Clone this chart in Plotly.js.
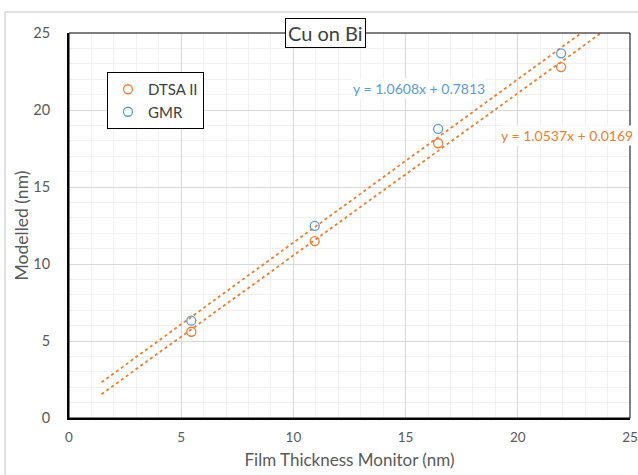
<!DOCTYPE html>
<html>
<head>
<meta charset="utf-8">
<script src="https://cdn.plot.ly/plotly-3.0.1.min.js"></script>
<style>html,body{margin:0;padding:0;background:#fff;}#chart{width:638px;height:475px;}</style>
</head>
<body>
<div id="chart"></div>
<script>
// Data
const seriesNames = ["DTSA II", "GMR"];
const filmThickness = [5.45, 10.95, 16.45, 21.93];
const dtsaValues = [5.60, 11.49, 17.84, 22.79];
const gmrValues = [6.32, 12.47, 18.77, 23.68];
const dtsaFit = {slope: 1.0537, intercept: 0.0169};
const gmrFit = {slope: 1.0608, intercept: 0.7813};
const trendRange = [1.45, 23.9];
const tickValues = [0, 5, 10, 15, 20, 25];

const ORANGE = "#ed7d31", BLUE = "#5b9bd5";
const FONT = "Lato, 'Open Sans', sans-serif";

function fitLine(fit) { return trendRange.map(x => fit.slope * x + fit.intercept); }
function eqText(fit) { return "y = " + fit.slope.toFixed(4) + "x + " + fit.intercept.toFixed(4); }

const traces = [
  {x: trendRange, y: fitLine(gmrFit), mode: "lines", line: {color: ORANGE, dash: "dot", width: 1.8}, showlegend: false, hoverinfo: "skip"},
  {x: trendRange, y: fitLine(dtsaFit), mode: "lines", line: {color: ORANGE, dash: "dot", width: 1.8}, showlegend: false, hoverinfo: "skip"},
  {x: filmThickness, y: dtsaValues, name: seriesNames[0], mode: "markers", type: "scatter",
   marker: {symbol: "circle-open", size: 9, color: ORANGE, line: {width: 1.3, color: ORANGE}}},
  {x: filmThickness, y: gmrValues, name: seriesNames[1], mode: "markers", type: "scatter",
   marker: {symbol: "circle-open", size: 9, color: BLUE, line: {width: 1.3, color: BLUE}}}
];

const W = 561, H = 385, L = 69, T = 33;
const px = v => (v - L) / W;
const py = v => (T + H - v) / H;

const axisCommon = {
  range: [0, 25], tickvals: tickValues, ticktext: tickValues.map(String),
  showgrid: true, gridcolor: "#d9d9d9", gridwidth: 1,
  minor: {dtick: 1, showgrid: true, gridcolor: "#f0f0f0", gridwidth: 1},
  zeroline: false, showline: true, linecolor: "#000000", linewidth: 2, mirror: false,
  ticks: "", fixedrange: true
};

const layout = {
  width: 638, height: 475,
  margin: {l: L, r: 638 - L - W, t: T, b: 475 - T - H},
  paper_bgcolor: "#ffffff", plot_bgcolor: "#ffffff",
  font: {family: FONT, color: "#595959"},
  xaxis: Object.assign({}, axisCommon, {
    ticklabelstandoff: 6,
    tickfont: {family: FONT, size: 13.5, color: "#595959"},
    title: {text: "Film Thickness Monitor (nm)", font: {family: FONT, size: 17, color: "#595959"}, standoff: 10}
  }),
  yaxis: Object.assign({}, axisCommon, {
    ticklabelstandoff: 14,
    tickfont: {family: FONT, size: 14.5, color: "#595959"},
    title: {text: "Modelled (nm)", font: {family: FONT, size: 17.5, color: "#595959"}, standoff: 0}
  }),
  showlegend: true,
  legend: {x: px(107), y: py(72), xanchor: "left", yanchor: "top",
    bgcolor: "#ffffff", bordercolor: "#000000", borderwidth: 1,
    font: {family: FONT, size: 15, color: "#404040"}, itemwidth: 30, tracegroupgap: 0},
  shapes: [
    {type: "rect", xref: "paper", yref: "paper", x0: px(5), x1: px(645), y0: py(480), y1: py(12),
     line: {color: "#d9d9d9", width: 1.5}, layer: "below"},
    {type: "rect", xref: "paper", yref: "paper", x0: 0, x1: 1, y0: 0, y1: 1,
     line: {color: "#000000", width: 1}}
  ],
  annotations: [
    {text: "Cu on Bi", xref: "paper", yref: "paper", x: px(325), y: 1, xanchor: "center", yanchor: "middle",
     showarrow: false, bgcolor: "#ffffff", bordercolor: "#000000", borderwidth: 1, borderpad: 2,
     font: {family: FONT, size: 20, color: "#404040"}},
    {text: eqText(gmrFit), xref: "paper", yref: "paper", x: px(419), y: py(88), xanchor: "center", yanchor: "middle",
     showarrow: false, bgcolor: "#ffffff", font: {family: FONT, size: 14, color: BLUE}},
    {text: eqText(dtsaFit), xref: "paper", yref: "paper", x: px(567), y: py(135), xanchor: "center", yanchor: "middle",
     showarrow: false, bgcolor: "#ffffff", font: {family: FONT, size: 14, color: ORANGE}}
  ]
};

Plotly.newPlot("chart", traces, layout, {displayModeBar: false, staticPlot: true});
</script>
</body>
</html>
